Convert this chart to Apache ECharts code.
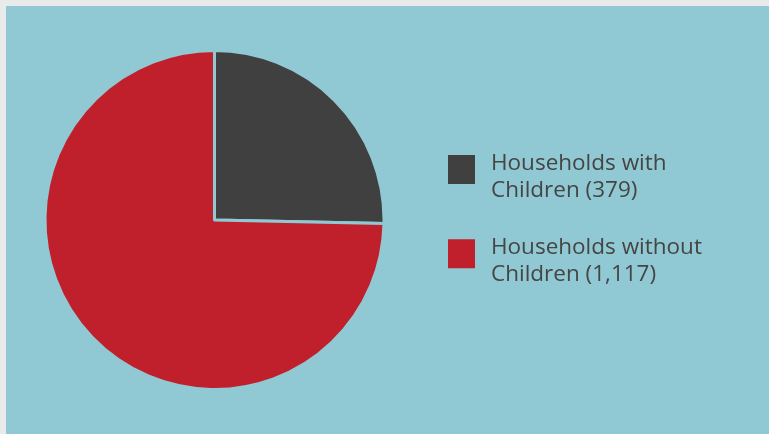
<!DOCTYPE html>
<html>
<head>
<meta charset="utf-8">
<script src="https://cdn.jsdelivr.net/npm/echarts@6/dist/echarts.min.js"></script>
<style>
html,body{margin:0;padding:0;background:#e9eaec;width:769px;height:434px;overflow:hidden;}
#chart{position:absolute;left:6px;top:6px;width:763px;height:428px;background:#90c9d3;}
</style>
</head>
<body>
<div id="chart"></div>
<script>
const categories = ['Households with\nChildren (379)', 'Households without\nChildren (1,117)'];
const values = [379, 1117];
const colors = ['#404040', '#c0202c'];

const chart = echarts.init(document.getElementById('chart'), null, {renderer: 'canvas'});
chart.setOption({
  animation: false,
  backgroundColor: '#90c9d3',
  legend: {
    orient: 'vertical',
    left: 437,
    top: 138.5,
    padding: 5,
    itemWidth: 27,
    itemHeight: 44,
    itemGap: 29.3,
    icon: 'path://M0,0L27,0L27,29L0,29Z M0,44L27,44',
    selectedMode: false,
    itemStyle: {borderWidth: 0},
    textStyle: {
      fontFamily: 'Open Sans',
      fontSize: 22.5,
      lineHeight: 27.5,
      color: '#454545',
      padding: [0, 0, 0, 11]
    },
    data: categories
  },
  series: [{
    type: 'pie',
    center: [208.5, 214],
    radius: 169.5,
    startAngle: 90,
    clockwise: true,
    label: {show: false},
    labelLine: {show: false},
    emphasis: {disabled: true},
    itemStyle: {borderColor: '#90c9d3', borderWidth: 3},
    data: categories.map((c, i) => ({name: c, value: values[i], itemStyle: {color: colors[i]}}))
  }]
});
</script>
</body>
</html>
